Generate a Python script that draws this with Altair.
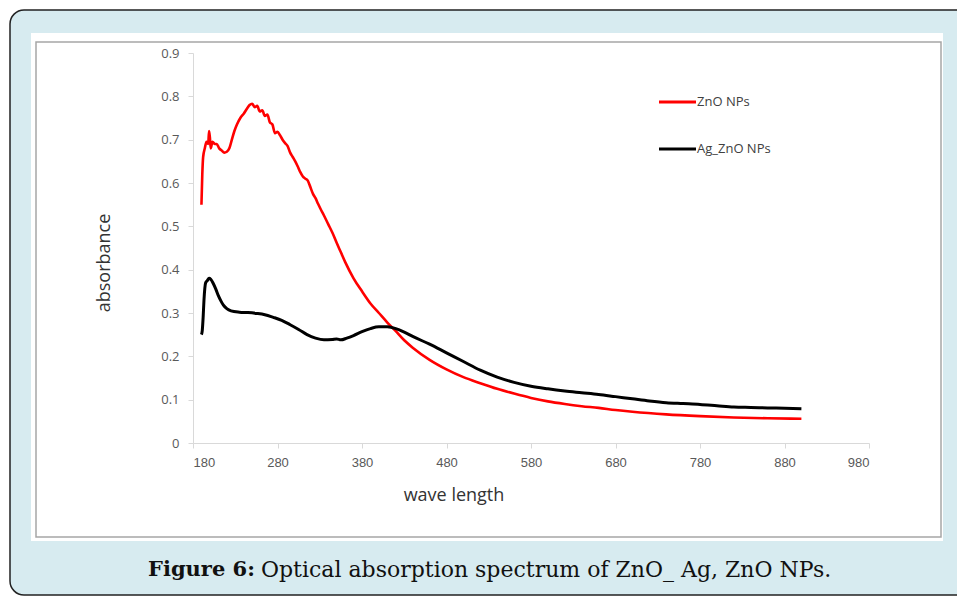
import altair as alt
import pandas as pd

# ---- data ----
zno_wl = [190, 191, 192, 194, 196, 198, 199, 200, 201, 203, 206, 208, 211, 214, 217, 220,
          223, 226, 229, 232, 236, 240, 244, 247, 250, 253, 256, 259, 262, 265, 268, 271,
          274, 277, 280, 283, 286, 289, 292, 295, 298, 301, 304, 307, 310, 313, 316, 319,
          322, 325, 328, 331, 335, 340, 345, 350, 355, 360, 370, 380, 390, 400, 410, 420,
          430, 440, 460, 480, 500, 520, 540, 560, 580, 600, 620, 640, 660, 680, 700, 740,
          780, 820, 860, 900]
zno_abs = [0.55, 0.62, 0.66, 0.68, 0.695, 0.69, 0.72, 0.705, 0.68, 0.695, 0.69, 0.69, 0.68,
           0.675, 0.67, 0.672, 0.68, 0.70, 0.72, 0.735, 0.75, 0.76, 0.772, 0.78, 0.783, 0.775,
           0.778, 0.765, 0.768, 0.755, 0.758, 0.74, 0.735, 0.715, 0.718, 0.71, 0.70, 0.692,
           0.685, 0.67, 0.66, 0.65, 0.638, 0.625, 0.615, 0.61, 0.605, 0.59, 0.575, 0.565,
           0.552, 0.54, 0.525, 0.505, 0.485, 0.462, 0.44, 0.418, 0.38, 0.35, 0.322, 0.3, 0.278,
           0.258, 0.237, 0.22, 0.192, 0.17, 0.152, 0.138, 0.125, 0.114, 0.104, 0.096, 0.09,
           0.085, 0.081, 0.076, 0.072, 0.066, 0.062, 0.059, 0.057, 0.056]

ag_wl = [190, 191, 192, 193, 195, 197, 199, 201, 204, 207, 210, 213, 216, 220, 225, 235,
         245, 255, 265, 275, 285, 295, 305, 315, 325, 335, 345, 350, 355, 362, 370, 380,
         390, 400, 410, 420, 430, 440, 460, 480, 500, 520, 540, 560, 580, 600, 620, 640,
         660, 680, 700, 720, 740, 760, 780, 800, 820, 840, 860, 880, 900]
ag_abs = [0.25, 0.26, 0.29, 0.33, 0.37, 0.375, 0.38, 0.378, 0.368, 0.355, 0.34, 0.328, 0.318,
          0.31, 0.305, 0.302, 0.301, 0.299, 0.296, 0.29, 0.283, 0.273, 0.262, 0.25, 0.242,
          0.238, 0.239, 0.24, 0.238, 0.242, 0.248, 0.257, 0.264, 0.268, 0.268, 0.264, 0.256,
          0.246, 0.228, 0.208, 0.188, 0.168, 0.152, 0.14, 0.131, 0.125, 0.12, 0.116, 0.112,
          0.107, 0.102, 0.097, 0.093, 0.091, 0.089, 0.086, 0.083, 0.082, 0.081, 0.08, 0.079]

x_ticks = [180, 280, 380, 480, 580, 680, 780, 880, 980]
y_ticks = [0, 0.1, 0.2, 0.3, 0.4, 0.5, 0.6, 0.7, 0.8, 0.9]
series_names = ["ZnO NPs", "Ag_ZnO NPs"]
series_colors = ["#ff0000", "#000000"]

df_zno = pd.DataFrame({"wl": zno_wl, "ab": zno_abs})
df_ag = pd.DataFrame({"wl": ag_wl, "ab": ag_abs})

W, H = 676, 390
one = alt.Data(values=[{}])

xenc = alt.X("wl:Q", scale=alt.Scale(domain=[180, 980], nice=False, zero=False),
             axis=alt.Axis(values=x_ticks, title=None, grid=False, domainColor="#d9d9d9",
                           tickColor="#d9d9d9", tickSize=5, labelPadding=8,
                           labelFont="Liberation Sans", labelFontSize=13,
                           labelColor="#595959", zindex=1))
yenc = alt.Y("ab:Q", scale=alt.Scale(domain=[0, 0.9], nice=False),
             axis=alt.Axis(values=y_ticks, format=".1~f", title=None, grid=False,
                           domainColor="#d9d9d9", tickColor="#d9d9d9", tickSize=5,
                           labelPadding=9, labelFont="Open Sans", labelFontSize=13,
                           labelColor="#595959", zindex=1))

frame = alt.Chart(one).mark_rect(fill="#d7ebf0", stroke="#222222", strokeWidth=1.5,
                                 cornerRadius=14).encode(
    x=alt.value(-183), x2=alt.value(800), y=alt.value(-43), y2=alt.value(542))
panel = alt.Chart(one).mark_rect(fill="#ffffff").encode(
    x=alt.value(-162), x2=alt.value(750), y=alt.value(-20), y2=alt.value(488))
inner = alt.Chart(one).mark_rect(fill="#ffffff", stroke="#a6a6a6", strokeWidth=1.5).encode(
    x=alt.value(-157), x2=alt.value(748), y=alt.value(-11), y2=alt.value(484))

red = alt.Chart(df_zno).mark_line(color=series_colors[0], strokeWidth=2.6,
                                  interpolate="monotone").encode(x=xenc, y=yenc)
black = alt.Chart(df_ag).mark_line(color=series_colors[1], strokeWidth=3,
                                   interpolate="monotone").encode(x=xenc, y=yenc)

leg_df = pd.DataFrame({"name": series_names, "color": series_colors, "yy": [49, 96]})
leg_lines = alt.Chart(leg_df).mark_rule(strokeWidth=3).encode(
    x=alt.value(466), x2=alt.value(503), y=alt.Y("yy:Q", scale=None),
    color=alt.Color("color:N", scale=None))
leg_text = alt.Chart(leg_df).mark_text(align="left", baseline="middle", font="Open Sans",
                                       fontSize=13, color="#404040").encode(
    x=alt.value(504), y=alt.Y("yy:Q", scale=None), text="name:N")

ytitle = alt.Chart(one).mark_text(text="absorbance", angle=270, align="center",
                                  baseline="middle", font="Open Sans", fontSize=18,
                                  color="#333333").encode(x=alt.value(-88), y=alt.value(210))
xtitle = alt.Chart(one).mark_text(text="wave length", align="center", baseline="middle",
                                  font="Open Sans", fontSize=18,
                                  color="#333333").encode(x=alt.value(261), y=alt.value(443))
cap1 = alt.Chart(one).mark_text(text="Figure 6:", align="left", baseline="middle",
                                font="DejaVu Serif", fontSize=21, fontWeight="bold",
                                color="#111111").encode(x=alt.value(-45), y=alt.value(517))
cap2 = alt.Chart(one).mark_text(text="Optical absorption spectrum of ZnO_ Ag, ZnO NPs.",
                                align="left", baseline="middle", font="DejaVu Serif",
                                fontSize=22, color="#111111").encode(x=alt.value(68),
                                                                      y=alt.value(517))

chart = alt.layer(frame, panel, inner, red, black, leg_lines, leg_text, ytitle, xtitle,
                  cap1, cap2).properties(
    width=W, height=H,
    autosize=alt.AutoSizeParams(type="none"),
    padding={"left": 193, "top": 53, "right": 88, "bottom": 153},
    background="#ffffff",
).configure_view(stroke=None)

chart.save("out.html", embed_options={"renderer": "svg", "actions": False})
